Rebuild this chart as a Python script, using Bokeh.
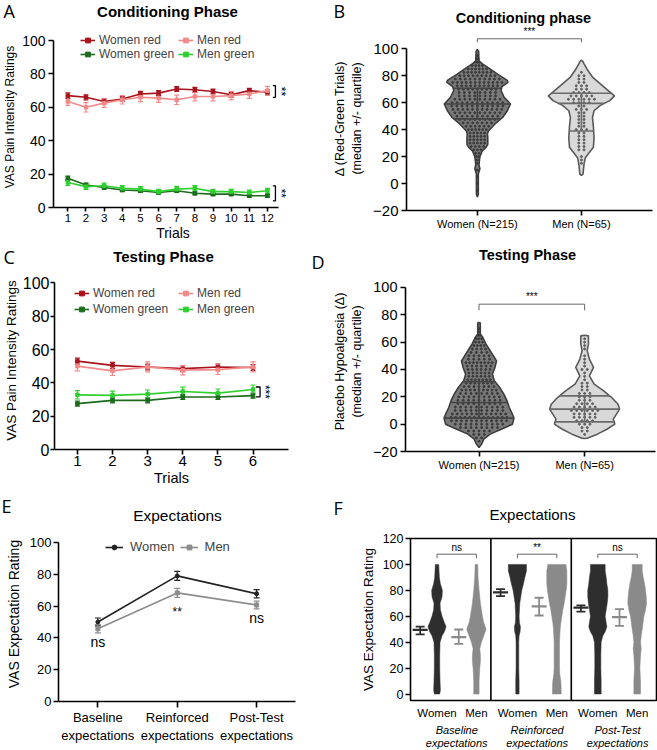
import numpy as np
from bokeh.plotting import figure
from bokeh.layouts import column, row
from bokeh.models import (Range1d, FixedTicker, Label, Legend, LegendItem, Whisker, TeeHead,
                          ColumnDataSource, Span)
from bokeh.embed import file_html
from bokeh.resources import INLINE

FONT = "Liberation Sans"
LETTER_FONT = "Open Sans"

# ---------------- Panel A: conditioning phase ----------------
trials_cond = [1, 2, 3, 4, 5, 6, 7, 8, 9, 10, 11, 12]
cond_women_red = [67, 66, 63.5, 65, 68, 68.5, 71, 70.5, 69.5, 67.5, 70, 69]
cond_women_red_err = [1.6, 1.5, 1.5, 1.5, 1.5, 1.5, 1.4, 1.5, 1.4, 1.5, 1.4, 1.5]
cond_men_red = [63.5, 60, 62.5, 64.5, 66, 65.5, 64.5, 66.5, 66.5, 67, 68, 70]
cond_men_red_err = [2.3, 2.8, 2.5, 2.5, 2.6, 2.6, 2.8, 2.6, 2.6, 2.5, 2.6, 2.5]
cond_women_green = [17.5, 13.5, 12, 10.5, 10, 9, 10, 8.5, 8, 8, 7, 7]
cond_women_green_err = [1.3, 1.1, 1.0, 1.0, 1.0, 0.9, 1.0, 0.9, 0.9, 0.9, 0.8, 0.8]
cond_men_green = [15, 12.5, 13, 11.5, 11, 9.5, 11, 11.5, 9.5, 9.5, 9, 10]
cond_men_green_err = [1.8, 1.7, 1.6, 1.6, 1.5, 1.4, 1.6, 1.6, 1.4, 1.4, 1.4, 1.5]

# ---------------- Panel C: testing phase ----------------
trials_test = [1, 2, 3, 4, 5, 6]
test_women_red = [53, 50.5, 49.5, 48.5, 49.5, 49.2]
test_women_red_err = [1.8, 1.8, 1.7, 1.8, 1.8, 1.8]
test_men_red = [50, 47.2, 49.6, 47.6, 47.9, 49.6]
test_men_red_err = [2.8, 2.8, 3.0, 2.8, 2.9, 3.0]
test_women_green = [27.5, 29.5, 29.5, 31.5, 31.5, 32.3]
test_women_green_err = [1.5, 1.5, 1.5, 1.5, 1.5, 1.5]
test_men_green = [32.8, 32.5, 33.2, 34.8, 33.8, 36]
test_men_green_err = [2.5, 2.5, 2.5, 2.6, 2.5, 2.7]

# ---------------- Panel B: conditioning delta violins ----------------
groups_bd = ["Women (N=215)", "Men (N=65)"]
b_women_y = [-10, -8, 0, 7, 11, 14, 20, 24, 27, 29, 34, 37, 39, 44, 49, 54, 59, 64, 69, 72, 75, 76.5, 78, 81, 85, 89, 91, 98, 99.5]
b_women_d = [0, 3, 3, 3, 8, 5, 8, 15, 28, 33, 33, 32, 35, 55, 80, 95, 105, 85, 75, 78, 97, 95, 85, 65, 40, 15, 5, 4, 0]
b_men_y = [6, 7, 14, 19, 23, 27, 34, 42, 49, 54, 58, 61.5, 65, 69, 74, 79, 84, 89, 90.5, 91.5]
b_men_d = [0, 5, 8, 12, 25, 38, 40, 38, 35, 40, 60, 90, 105, 85, 60, 35, 20, 8, 5, 0]
b_women_q = [48, 59, 70.7]
b_men_q = [39, 59.5, 67]
b_women_rows = [-5, 0, 5, 10, 15, 17.5, 20, 22.5, 25, 27.5, 30, 32.5, 35, 37.5, 40, 42.5, 45, 47.5, 50, 52.5,
                55, 57.5, 60, 62.5, 65, 67.5, 70, 72.5, 75, 77.5, 80, 82.5, 85, 87.5, 90, 92.5, 95]
b_women_cnt = [1, 1, 1, 1, 1, 1, 2, 2, 3, 4, 5, 5, 5, 5, 6, 6, 7, 8, 9, 10,
               11, 11, 11, 10, 8, 8, 9, 10, 12, 10, 9, 8, 6, 4, 3, 2, 1]
b_men_rows = [15, 17.5, 20, 25, 27.5, 30, 32.5, 35, 37.5, 40, 42.5, 45, 47.5, 50, 52.5, 55, 57.5, 60,
              62.5, 65, 67.5, 70, 72.5, 75, 77.5, 80, 82.5]
b_men_cnt = [1, 1, 1, 2, 2, 2, 2, 2, 2, 3, 2, 2, 2, 2, 2, 3, 2, 4, 6, 5, 4, 3, 3, 2, 2, 2, 1]

# ---------------- Panel D: testing delta violins ----------------
d_women_y = [-17, -14.6, -11, -7.3, -3.7, 0, 4.4, 7.3, 12.2, 17, 22, 26.8, 31.7, 36.6, 41.5, 46.3, 53.7, 58.5, 63.4, 66, 74, 74.5]
d_women_d = [0, 8, 15, 35, 70, 105, 110, 105, 95, 88, 78, 65, 48, 42, 50, 55, 35, 22, 12, 4, 4, 0]
d_men_y = [-10.5, -10.2, -7.3, -3.7, 0, 3.7, 7.3, 11, 14.6, 19.5, 24.4, 29.3, 35.4, 41.5, 47.6, 53.7, 58.5, 64.6, 65]
d_men_d = [0, 10, 40, 70, 95, 90, 100, 110, 105, 85, 60, 30, 15, 28, 15, 8, 12, 12, 0]
d_women_q = [4.4, 15.9, 31]
d_men_q = [1.7, 11, 20.7]
d_women_rows = [-12.5, -10, -7.5, -5, -2.5, 0, 2.5, 5, 7.5, 10, 12.5, 15, 17.5, 20, 22.5, 25, 27.5, 30, 32.5,
                35, 37.5, 40, 42.5, 45, 47.5, 50, 52.5, 55, 57.5, 60, 62.5, 65, 67.5, 70]
d_women_cnt = [1, 2, 3, 5, 8, 10, 12, 13, 12, 10, 10, 9, 9, 9, 8, 9, 7, 7, 7,
               6, 6, 6, 6, 8, 5, 5, 4, 4, 4, 3, 3, 2, 1, 1]
d_men_rows = [-7.5, -5, -2.5, 0, 2.5, 5, 7.5, 10, 12.5, 15, 17.5, 20, 22.5, 25, 27.5, 30, 32.5, 35,
              37.5, 40, 42.5, 45, 47.5, 50, 55, 57.5, 60, 62.5]
d_men_cnt = [1, 2, 2, 3, 4, 5, 5, 6, 5, 4, 3, 3, 3, 2, 2, 2, 1, 1, 1, 2, 1, 1, 1, 1, 1, 1, 1, 1]

# ---------------- Panel E: expectations ----------------
exp_labels = ["Baseline\nexpectations", "Reinforced\nexpectations", "Post-Test\nexpectations"]
exp_x = [1, 2, 3]
exp_women = [50, 79, 67.8]
exp_women_err = [2.5, 2.8, 2.6]
exp_men = [45.7, 68.3, 60.7]
exp_men_err = [2.6, 2.8, 2.4]
exp_sig = ["ns", "**", "ns"]

# ---------------- Panel F: expectation violins ----------------
f_women_mean = [49.5, 78.5, 66.6]
f_women_lo = [46, 75.6, 63.5]
f_women_hi = [52, 81, 68.4]
f_men_mean = [43.9, 67.6, 59.4]
f_men_lo = [38.7, 60.6, 52.6]
f_men_hi = [49.8, 74.3, 65.5]
f_sig = ["ns", "**", "ns"]
f_women_y = [
    [0, 3, 10, 20, 30, 40, 45, 48, 52, 55, 60, 65, 70, 75, 80, 85, 90, 95, 100],
    [0, 10, 20, 30, 40, 45, 48, 52, 55, 60, 65, 70, 75, 80, 85, 90, 95, 100],
    [0, 10, 20, 30, 40, 45, 48, 52, 55, 60, 65, 70, 75, 80, 85, 90, 95, 100],
]
f_women_d = [
    [8, 10, 9, 8, 8, 9, 15, 22, 27, 22, 15, 10, 9, 15, 16, 10, 7, 6, 5],
    [5, 5, 4, 4, 4, 5, 8, 9, 6, 5, 6, 7, 10, 13, 18, 22, 27, 27],
    [10, 10, 9, 9, 10, 15, 22, 27, 25, 22, 25, 28, 30, 30, 27, 25, 22, 22],
]
f_men_y = [
    [0, 10, 20, 25, 30, 35, 40, 45, 50, 55, 60, 65, 70, 80, 90, 100],
    [0, 5, 10, 15, 20, 30, 40, 50, 55, 60, 65, 70, 75, 80, 85, 90, 95, 100],
    [0, 10, 20, 30, 35, 40, 45, 50, 60, 65, 70, 75, 80, 85, 90, 95, 100],
]
f_men_d = [
    [8, 8, 10, 12, 12, 10, 15, 22, 29, 22, 18, 15, 12, 8, 5, 4],
    [13, 13, 12, 9, 8, 8, 8, 10, 12, 15, 18, 22, 25, 28, 30, 30, 30, 27],
    [10, 10, 8, 10, 12, 10, 12, 15, 20, 25, 28, 27, 25, 22, 18, 15, 15],
]
f_groups = [("Baseline", "expectations"), ("Reinforced", "expectations"), ("Post-Test", "expectations")]

# ---------------- colours / styles ----------------
C_WR, C_MR, C_WG, C_MG = "#a8141c", "#f28a8a", "#1d6b1d", "#2fcf2f"

# body geometry: width, height, left, right, top, bottom
GA = (330, 219, 53, 38, 0, 38)
GB = (327, 219, 65, 5, 0, 35)
GC = (330, 219, 53, 42, 0, 41)
GD = (327, 219, 63, 2, 0, 39)
GE = (330, 224, 58, 35, 0, 49)
GF = (327, 196, 80, 1, 12, 22)


def style_axis(ax):
    ax.axis_line_width = 1.6
    ax.axis_line_color = "black"
    ax.major_tick_line_width = 1.6
    ax.major_tick_line_color = "black"
    ax.major_tick_in = 0
    ax.major_tick_out = 5
    ax.minor_tick_line_color = None
    ax.major_label_text_font = FONT
    ax.axis_label_text_font = FONT
    ax.axis_label_text_font_style = "normal"
    ax.major_label_text_color = "black"
    ax.axis_label_text_color = "black"
    ax.major_label_standoff = 3


def make_fig(g, xr, yr):
    w, h, l, r, t, b = g
    p = figure(width=w, height=h, x_range=Range1d(*xr), y_range=Range1d(*yr),
               output_backend="svg", toolbar_location=None, frame_align=False,
               min_border_left=l, min_border_right=r, min_border_top=t, min_border_bottom=b)
    p.grid.visible = False
    p.outline_line_color = None
    p.background_fill_color = "white"
    p.border_fill_color = "white"
    for ax in p.axis:
        style_axis(ax)
    return p


def make_strip(w, h):
    p = figure(width=w, height=h, x_range=Range1d(0, w), y_range=Range1d(h, 0),
               output_backend="svg", toolbar_location=None, x_axis_location=None, y_axis_location=None,
               frame_align=False,
               min_border_left=0, min_border_right=0, min_border_top=0, min_border_bottom=0)
    p.grid.visible = False
    p.outline_line_color = None
    p.background_fill_color = "white"
    p.border_fill_color = "white"
    return p


def htext(p, x, y, text, size, style="normal", font=FONT, align="center"):
    p.add_layout(Label(x=x, y=y, text=text, text_font=font, text_font_size=f"{size}px",
                       text_font_style=style, text_align=align, text_baseline="middle", text_color="black"))


def dtext(p, x, y, text, size, color="black", angle=0.0, baseline="middle"):
    p.add_layout(Label(x=x, y=y, text=text, text_font=FONT, text_font_size=f"{size}px",
                       text_align="center", text_baseline=baseline, text_color=color, angle=angle))


def series(p, x, y, e, color, marker="square", msize=3.5, lw=1.6, head=5):
    src = ColumnDataSource(dict(x=x, y=y, lo=[a - b for a, b in zip(y, e)], hi=[a + b for a, b in zip(y, e)]))
    ln = p.line("x", "y", source=src, line_color=color, line_width=lw)
    mk = p.scatter("x", "y", source=src, marker=marker, size=msize, color=color)
    p.add_layout(Whisker(source=src, base="x", lower="lo", upper="hi", line_color=color, line_width=1.2,
                         upper_head=TeeHead(size=head, line_color=color, line_width=1.2),
                         lower_head=TeeHead(size=head, line_color=color, line_width=1.2)))
    return [ln, mk]


def side_bracket(p, x0, x1, ylo, yhi):
    p.line([x0, x1, x1, x0], [yhi, yhi, ylo, ylo], line_color="black", line_width=1.3)


def top_bracket(p, xa, xb, y, tip, text, size, color="#666666", text_dy=1.5):
    p.line([xa, xa, xb, xb], [y - tip, y, y, y - tip], line_color=color, line_width=1)
    dtext(p, (xa + xb) / 2, y + text_dy, text, size, color="black", baseline="bottom")


def violin(p, cx, vy, vd, scale, fill, line, lw):
    vy = np.array(vy, dtype=float)
    hw = np.array(vd, dtype=float) * scale
    xs = np.concatenate([cx + hw, (cx - hw)[::-1]])
    ys = np.concatenate([vy, vy[::-1]])
    p.patch(xs, ys, fill_color=fill, line_color=line, line_width=lw)


def quart_lines(p, cx, vy, vd, scale, qs, color):
    halves = [float(np.interp(q, vy, vd)) * scale for q in qs]
    p.segment(x0=[cx - h for h in halves], y0=qs, x1=[cx + h for h in halves], y1=qs,
              line_color=color, line_width=1.6)
    p.segment(x0=[cx], y0=[qs[0]], x1=[cx], y1=[qs[2]], line_color=color, line_width=1.6)


def swarm(p, cx, rows, cnts, vy, vd, scale, max_sp, color):
    xs, ys = [], []
    for yv, n in zip(rows, cnts):
        hw = float(np.interp(yv, vy, vd)) * scale
        sp = min(max_sp, 1.75 * hw / max(n, 1))
        for i in range(n):
            xs.append(cx + (i - (n - 1) / 2) * sp)
            ys.append(yv)
    p.scatter(xs, ys, size=2.0, color=color, marker="circle")


def trial_legend(p, items, loc, spacing, label_width):
    leg = Legend(items=items, ncols=2, location=loc, label_text_font=FONT, label_text_font_size="12px",
                 glyph_width=15, glyph_height=12, label_standoff=4, label_height=12, label_width=label_width,
                 spacing=spacing, padding=0, margin=0, border_line_color=None, background_fill_alpha=0)
    p.add_layout(leg)


# ======================= Panel A =======================
hA = make_strip(330, 26)
htext(hA, 167, 11, "Conditioning Phase", 15, style="bold")
htext(hA, 3, 10, "A", 18, font=LETTER_FONT, align="left")

pA = make_fig(GA, (0.21, 13.38), (0, 108.4))
pA.xaxis.ticker = FixedTicker(ticks=trials_cond)
pA.xaxis.bounds = (0.21, 12.6)
pA.yaxis.ticker = FixedTicker(ticks=[0, 20, 40, 60, 80, 100])
pA.yaxis.bounds = (0, 100)
pA.xaxis.major_label_text_font_size = "11.5px"
pA.yaxis.major_label_text_font_size = "14px"
pA.xaxis.major_tick_out = 4
pA.xaxis.major_label_standoff = 2
pA.xaxis.axis_label = "Trials"
pA.xaxis.axis_label_text_font_size = "14px"
pA.xaxis.axis_label_standoff = 0
pA.yaxis.axis_label = "VAS Pain Intensity Ratings"
pA.yaxis.axis_label_text_font_size = "12px"
pA.yaxis.axis_label_standoff = 2
rA1 = series(pA, trials_cond, cond_women_red, cond_women_red_err, C_WR)
rA2 = series(pA, trials_cond, cond_men_red, cond_men_red_err, C_MR)
rA3 = series(pA, trials_cond, cond_women_green, cond_women_green_err, C_WG)
rA4 = series(pA, trials_cond, cond_men_green, cond_men_green_err, C_MG)
lastA = trials_cond[-1]
for a, b in [(cond_women_red, cond_men_red), (cond_women_green, cond_men_green)]:
    lo, hi = min(a[-1], b[-1]) - 3, max(a[-1], b[-1]) + 3
    side_bracket(pA, lastA + 0.3, lastA + 0.44, lo, hi)
    dtext(pA, lastA + 0.72, (lo + hi) / 2, "**", 12, angle=-np.pi / 2)
trial_legend(pA, [LegendItem(label="Women red", renderers=rA1), LegendItem(label="Women green", renderers=rA3),
                  LegendItem(label="Men red", renderers=rA2), LegendItem(label="Men green", renderers=rA4)],
             (27, 146), 0, 79)

# ======================= Panel B =======================
hB = make_strip(327, 26)
htext(hB, 193, 17, "Conditioning phase", 14.5, style="bold")
htext(hB, 3, 10, "B", 18, font=LETTER_FONT, align="left")

pB = make_fig(GB, (0.319, 2.683), (-20, 116.5))
pB.xaxis.ticker = FixedTicker(ticks=[1, 2])
pB.xaxis.major_label_overrides = {1: groups_bd[0], 2: groups_bd[1]}
pB.xaxis.major_label_text_font_size = "11px"
pB.xaxis.major_label_standoff = 2
pB.yaxis.ticker = FixedTicker(ticks=[-20, 0, 20, 40, 60, 80, 100])
pB.yaxis.bounds = (-20, 100)
pB.yaxis.major_label_text_font_size = "15px"
pB.yaxis.axis_label = "\u0394 (Red-Green Trials)\n(median +/- quartile)"
pB.yaxis.axis_label_text_font_size = "12.5px"
pB.yaxis.axis_label_standoff = 6
VS_B = 1 / 330
violin(pB, 1, b_women_y, b_women_d, VS_B, "#7a7a7a", "#3c3c3c", 1.6)
violin(pB, 2, b_men_y, b_men_d, VS_B, "#d9d9d9", "#5a5a5a", 1.6)
swarm(pB, 1, b_women_rows, b_women_cnt, b_women_y, b_women_d, VS_B, 0.05, "#3a3a3a")
swarm(pB, 2, b_men_rows, b_men_cnt, b_men_y, b_men_d, VS_B, 0.05, "#5e5e5e")
quart_lines(pB, 1, b_women_y, b_women_d, VS_B, b_women_q, "#444444")
quart_lines(pB, 2, b_men_y, b_men_d, VS_B, b_men_q, "#6a6a6a")
top_bracket(pB, 1, 2, 107.4, 2.6, "***", 10)

# ======================= Panel C =======================
hC = make_strip(330, 26)
htext(hC, 163, 10.5, "Testing Phase", 15, style="bold")
htext(hC, 3, 11.5, "C", 18, font=LETTER_FONT, align="left")
htext(hC, 311, 16, "D", 18, font=LETTER_FONT, align="left")

pC = make_fig(GC, (0.348, 7.01), (0, 106.8))
pC.xaxis.ticker = FixedTicker(ticks=trials_test)
pC.yaxis.ticker = FixedTicker(ticks=[0, 20, 40, 60, 80, 100])
pC.yaxis.bounds = (0, 100)
pC.xaxis.major_label_text_font_size = "15px"
pC.yaxis.major_label_text_font_size = "16px"
pC.xaxis.major_label_standoff = 1
pC.yaxis.major_tick_out = 4
pC.yaxis.major_label_standoff = 1
pC.xaxis.axis_label = "Trials"
pC.xaxis.axis_label_text_font_size = "14.5px"
pC.xaxis.axis_label_standoff = 1
pC.yaxis.axis_label = "VAS Pain Intensity Ratings"
pC.yaxis.axis_label_text_font_size = "13.5px"
pC.yaxis.axis_label_standoff = 1
rC1 = series(pC, trials_test, test_women_red, test_women_red_err, C_WR)
rC2 = series(pC, trials_test, test_men_red, test_men_red_err, C_MR)
rC3 = series(pC, trials_test, test_women_green, test_women_green_err, C_WG)
rC4 = series(pC, trials_test, test_men_green, test_men_green_err, C_MG)
lastC = trials_test[-1]
loC = test_women_green[-1] - 0.7
hiC = test_men_green[-1] + 1.5
side_bracket(pC, lastC + 0.08, lastC + 0.2, loC, hiC)
dtext(pC, lastC + 0.33, (loC + hiC) / 2, "***", 12, angle=-np.pi / 2)
trial_legend(pC, [LegendItem(label="Women red", renderers=rC1), LegendItem(label="Women green", renderers=rC3),
                  LegendItem(label="Men red", renderers=rC2), LegendItem(label="Men green", renderers=rC4)],
             (20, 133), 2, 83)

# ======================= Panel D =======================
hD = make_strip(327, 26)
htext(hD, 197, 9.5, "Testing Phase", 14.5, style="bold")

pD = make_fig(GD, (0.304, 2.671), (-20, 111.7))
pD.xaxis.ticker = FixedTicker(ticks=[1, 2])
pD.xaxis.major_label_overrides = {1: groups_bd[0], 2: groups_bd[1]}
pD.xaxis.major_label_text_font_size = "11px"
pD.xaxis.major_label_standoff = 2
pD.yaxis.ticker = FixedTicker(ticks=[-20, 0, 20, 40, 60, 80, 100])
pD.yaxis.bounds = (-20, 100)
pD.yaxis.major_label_text_font_size = "14.5px"
pD.yaxis.axis_label = "Placebo Hypoalgesia (\u0394)\n(median +/- quartile)"
pD.yaxis.axis_label_text_font_size = "12.5px"
pD.yaxis.axis_label_standoff = 6
VS_D = 1 / 332
violin(pD, 1, d_women_y, d_women_d, VS_D, "#7a7a7a", "#3c3c3c", 1.6)
violin(pD, 2, d_men_y, d_men_d, VS_D, "#d9d9d9", "#5a5a5a", 1.6)
swarm(pD, 1, d_women_rows, d_women_cnt, d_women_y, d_women_d, VS_D, 0.05, "#3a3a3a")
swarm(pD, 2, d_men_rows, d_men_cnt, d_men_y, d_men_d, VS_D, 0.05, "#5e5e5e")
quart_lines(pD, 1, d_women_y, d_women_d, VS_D, d_women_q, "#444444")
quart_lines(pD, 2, d_men_y, d_men_d, VS_D, d_men_q, "#6a6a6a")
top_bracket(pD, 1, 2, 87.8, 4.5, "***", 10)

# ======================= Panel E =======================
hE = make_strip(330, 36)
htext(hE, 177, 24.5, "Expectations", 15.5)
htext(hE, 1, 15, "E", 18, font=LETTER_FONT, align="left")

pE = make_fig(GE, (0.504, 3.49), (0, 110.06))
pE.xaxis.ticker = FixedTicker(ticks=exp_x)
pE.xaxis.major_label_overrides = {x: lab for x, lab in zip(exp_x, exp_labels)}
pE.xaxis.major_label_text_font_size = "13px"
pE.xaxis.major_tick_out = 6
pE.xaxis.major_label_standoff = 2
pE.yaxis.ticker = FixedTicker(ticks=[0, 20, 40, 60, 80, 100])
pE.yaxis.bounds = (0, 100)
pE.yaxis.major_label_text_font_size = "13px"
pE.yaxis.major_label_standoff = 2
pE.yaxis.axis_label = "VAS Expectation Rating"
pE.yaxis.axis_label_text_font_size = "14px"
pE.yaxis.axis_label_standoff = 5
rE1 = series(pE, exp_x, exp_women, exp_women_err, "#222222", marker="circle", msize=4, head=6)
rE2 = series(pE, exp_x, exp_men, exp_men_err, "#8c8c8c", marker="square", msize=4, head=6)
sig_dy = {"ns": -8, "**": -12}
for x, m, s in zip(exp_x, exp_men, exp_sig):
    dtext(pE, x, m + sig_dy[s], s, 14 if s == "ns" else 12)
legE = Legend(items=[LegendItem(label="Women", renderers=rE1), LegendItem(label="Men", renderers=rE2)],
              orientation="horizontal", location=(47, 147), label_text_font=FONT, label_text_font_size="13px",
              glyph_width=18, glyph_height=12, label_standoff=7, label_height=12, spacing=5,
              padding=0, margin=0, border_line_color=None, background_fill_alpha=0)
pE.add_layout(legE)

# ======================= Panel F =======================
hF = make_strip(327, 36)
htext(hF, 202, 23.5, "Expectations", 15)
htext(hF, 3, 17, "F", 18, font=LETTER_FONT, align="left")

F_XR = (0, 3.06)
pF = make_fig(GF, F_XR, (-5, 120))
pF.outline_line_color = "black"
pF.outline_line_width = 1.6
OFF_WE, OFF_WV, OFF_ME, OFF_MV = 0.12, 0.33, 0.60, 0.82
tick_pos, tick_lab = [], {}
for g in range(3):
    for off, lab in [(OFF_WV, "Women"), (OFF_MV, "Men")]:
        tick_pos.append(g + off)
        tick_lab[g + off] = lab
pF.xaxis.ticker = FixedTicker(ticks=tick_pos)
pF.xaxis.major_label_overrides = tick_lab
pF.xaxis.axis_line_color = None
pF.xaxis.major_tick_line_color = None
pF.xaxis.major_tick_out = 0
pF.xaxis.major_label_standoff = 6
pF.xaxis.major_label_text_font_size = "11.5px"
pF.yaxis.ticker = FixedTicker(ticks=[0, 20, 40, 60, 80, 100, 120])
pF.yaxis.axis_line_color = None
pF.yaxis.major_label_text_font_size = "12.5px"
pF.yaxis.major_label_standoff = 2
pF.yaxis.axis_label = "VAS Expectation Rating"
pF.yaxis.axis_label_text_font_size = "13.5px"
pF.yaxis.axis_label_standoff = 4
for loc in [1, 2]:
    pF.add_layout(Span(location=loc, dimension="height", line_color="black", line_width=1.6))
VS_F = 1 / 240
for g in range(3):
    violin(pF, g + OFF_WV, f_women_y[g], f_women_d[g], VS_F, "#2e2e2e", "#2e2e2e", 0.5)
    violin(pF, g + OFF_MV, f_men_y[g], f_men_d[g], VS_F, "#8a8a8a", "#8a8a8a", 0.5)
for off, mean, lo, hi, col, head in [(OFF_WE, f_women_mean, f_women_lo, f_women_hi, "#2e2e2e", 9),
                                     (OFF_ME, f_men_mean, f_men_lo, f_men_hi, "#8a8a8a", 9)]:
    src = ColumnDataSource(dict(x=[g + off for g in range(3)], m=mean, lo=lo, hi=hi))
    pF.add_layout(Whisker(source=src, base="x", lower="lo", upper="hi", line_color=col, line_width=1.8,
                          upper_head=TeeHead(size=head, line_color=col, line_width=1.8),
                          lower_head=TeeHead(size=head, line_color=col, line_width=1.8)))
    pF.scatter("x", "m", source=src, marker="dash", size=15, line_width=2.2, line_color=col)
for g in range(3):
    top_bracket(pF, g + OFF_WV, g + OFF_MV, 107.9, 3.1, f_sig[g], 10, text_dy=0.8)

# footer strip under panel F with the italic group names, aligned to F's data positions
fF = make_strip(327, 28)
f_frame_w = GF[0] - GF[2] - GF[3]
for g, (l1, l2) in enumerate(f_groups):
    xd = g + (OFF_WV + OFF_MV) / 2
    xpx = GF[2] + (xd - F_XR[0]) / (F_XR[1] - F_XR[0]) * f_frame_w
    htext(fF, xpx, 7.5, l1, 11, style="italic")
    htext(fF, xpx, 20.5, l2, 11, style="italic")

layout = column(
    row(column(hA, pA), column(hB, pB)),
    row(column(hC, pC), column(hD, pD)),
    row(column(hE, pE), column(hF, pF, fF)),
)
open("out.html", "w").write(file_html(layout, INLINE))
